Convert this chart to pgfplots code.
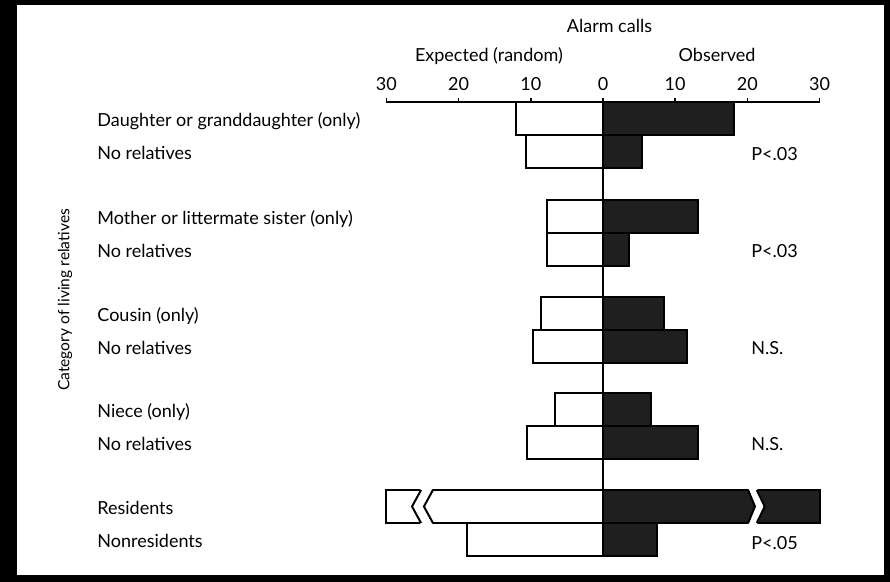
\documentclass[border=0pt]{standalone}
\usepackage{fontspec}
\setmainfont{Lato}
\usepackage{pgfplots}
\pgfplotsset{compat=1.18}
\begin{document}
\begin{tikzpicture}
% black frame and white panel (1 px = 0.5pt; axis top-left at px (386.4,102))
\fill[black] (-193.2pt,51pt) rectangle (251.8pt,-240pt);
\fill[white] (-184.7pt,48.5pt) rectangle (248.8pt,-236.5pt);
\begin{axis}[
  at={(0,0)}, anchor=north west,
  x=3.61pt, y=0.5pt,
  xmin=-30, xmax=30, ymin=-575, ymax=-102,
  axis x line*=top, axis y line=none,
  ytick=\empty,
  xtick={-30,-20,-10,0,10,20,30},
  xticklabels={30,20,10,0,10,20,30},
  tick align=outside,
  major tick length=2pt,
  axis line style={line width=1pt},
  tick style={black, line width=0.8pt},
  xticklabel style={font=\fontsize{9}{10}\selectfont},
  /pgf/number format/assume math mode=true,
  clip=false,
  font=\fontsize{9}{10}\selectfont,
]
% Expected (random)
\addplot[xbar, bar width=16.5pt, bar shift=0pt, fill=white, draw=black, line width=1pt]
coordinates {
(-12.1,-118.5) (-10.7,-151.5)
(-7.8,-216.5) (-7.8,-249.5)
(-8.6,-313.5) (-9.65,-346.5)
(-6.65,-409.5) (-10.5,-442.5)
(-30,-506.5) (-18.8,-539.5)
};
% Observed
\addplot[xbar, bar width=16.5pt, bar shift=0pt, fill=black!88, draw=black, line width=1pt]
coordinates {
(18.2,-118.5) (5.4,-151.5)
(13.2,-216.5) (3.6,-249.5)
(8.4,-313.5) (11.7,-346.5)
(6.7,-409.5) (13.1,-442.5)
(30,-506.5) (7.5,-539.5)
};
% scale breaks on the Residents bars
\fill[white] (axis cs:-25.2,-488) -- (axis cs:-26.45,-506.5) -- (axis cs:-25.2,-525) -- (axis cs:-23.55,-525) -- (axis cs:-24.8,-506.5) -- (axis cs:-23.55,-488) -- cycle;
\draw[line width=1pt] (axis cs:-25.2,-490) -- (axis cs:-26.45,-506.5) -- (axis cs:-25.2,-523);
\draw[line width=1pt] (axis cs:-23.55,-490) -- (axis cs:-24.8,-506.5) -- (axis cs:-23.55,-523);
\fill[white] (axis cs:20.1,-488) -- (axis cs:21.05,-506.5) -- (axis cs:20.1,-525) -- (axis cs:21.3,-525) -- (axis cs:22.4,-506.5) -- (axis cs:21.3,-488) -- cycle;
\draw[line width=1pt] (axis cs:20.1,-490) -- (axis cs:21.05,-506.5) -- (axis cs:20.1,-523);
\draw[line width=1pt] (axis cs:21.3,-490) -- (axis cs:22.4,-506.5) -- (axis cs:21.3,-523);
% zero line
\addplot[black, line width=0.8pt] coordinates {(0,-102) (0,-556)};
% titles
\node[anchor=base] at (axis cs:0.9,-33) {Alarm calls};
\node[anchor=base] at (axis cs:-15.8,-62) {Expected (random)};
\node[anchor=base] at (axis cs:15.8,-62) {Observed};
% category labels
\begin{scope}[every node/.style={anchor=base west, inner sep=0pt}]
\node at (axis cs:-70.08,-127) {Daughter or granddaughter (only)};
\node at (axis cs:-70.08,-159.5) {No relatives};
\node at (axis cs:-70.08,-225) {Mother or littermate sister (only)};
\node at (axis cs:-70.08,-257.5) {No relatives};
\node at (axis cs:-70.08,-322) {Cousin (only)};
\node at (axis cs:-70.08,-354.5) {No relatives};
\node at (axis cs:-70.08,-418) {Niece (only)};
\node at (axis cs:-70.08,-450.5) {No relatives};
\node at (axis cs:-70.08,-515) {Residents};
\node at (axis cs:-70.08,-548) {Nonresidents};
% significance
\node at (axis cs:20.5,-161) {P<.03};
\node at (axis cs:20.5,-258) {P<.03};
\node at (axis cs:20.5,-355) {N.S.};
\node at (axis cs:20.5,-451) {N.S.};
\node at (axis cs:20.5,-550) {P<.05};
\end{scope}
% y label
\node[rotate=90, font=\fontsize{7.8}{9}\selectfont] at (axis cs:-74.5,-300) {Category of living relatives};
\end{axis}
\end{tikzpicture}
\end{document}
